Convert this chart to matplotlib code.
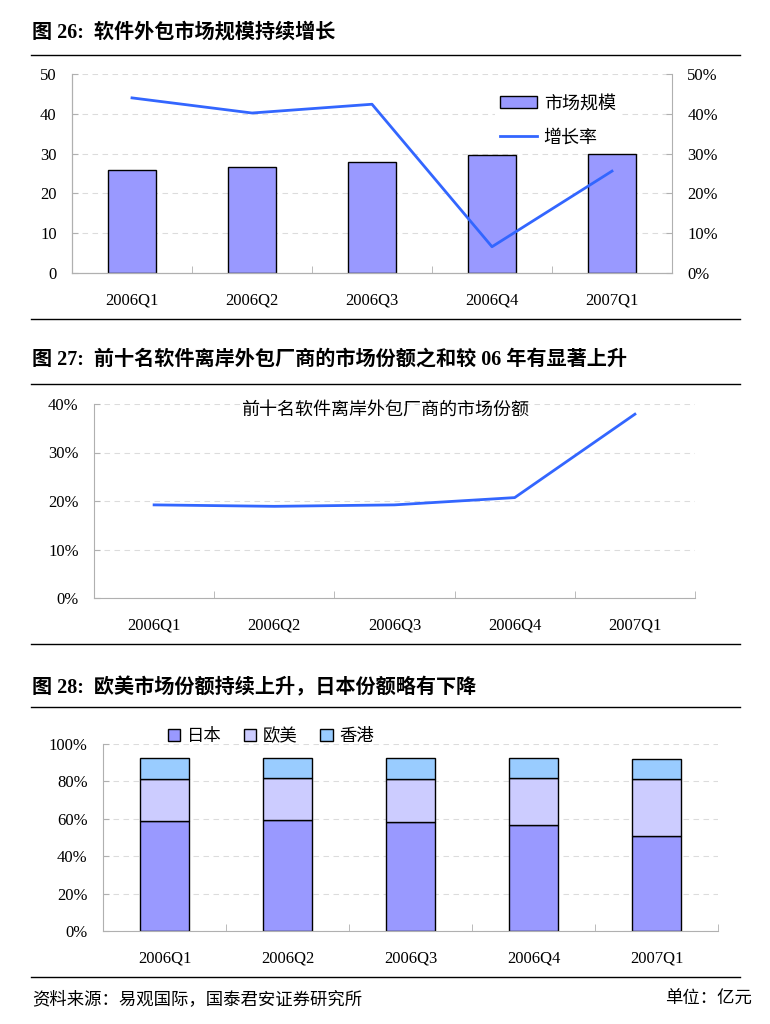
import matplotlib
matplotlib.use('Agg')
import matplotlib.pyplot as plt
import numpy as np
from matplotlib.lines import Line2D
from matplotlib.patches import Patch

plt.rcParams['font.family'] = ['Liberation Serif', 'Noto Sans CJK SC']

quarters = ['2006Q1', '2006Q2', '2006Q3', '2006Q4', '2007Q1']
market_size = [26.0, 26.7, 27.8, 29.6, 30.0]      # 亿元
growth_rate = [44.0, 40.2, 42.4, 6.6, 25.6]       # %
top10_share = [19.2, 18.9, 19.2, 20.7, 37.9]      # %
japan_share = [59.0, 59.5, 58.3, 56.5, 50.6]
euro_share = [22.4, 22.5, 23.1, 25.5, 30.8]
hk_share = [10.9, 10.3, 10.9, 10.3, 10.4]

BAR = '#9999FF'
EURO = '#CCCCFF'
HK = '#99CCFF'
LINE = '#3366FF'
AXIS = '#b0b0b0'
W, H = 770, 1024


def fx(px):
    return px / W


def fy(py):
    return 1 - py / H


def style_axes(ax, show_right=False):
    for s in ax.spines.values():
        s.set_color(AXIS)
    ax.spines['top'].set_visible(False)
    ax.spines['right'].set_visible(show_right)
    ax.grid(axis='y', color='#dcdcdc', linestyle=(0, (5, 4)), lw=0.8)
    ax.set_axisbelow(True)
    ax.set_xlim(-0.5, 4.5)
    ax.set_xticks(range(len(quarters)))
    ax.set_xticklabels(quarters)
    ax.set_xticks(np.arange(-0.5, 5, 1), minor=True)
    ax.tick_params(axis='x', which='major', length=0, pad=14, labelsize=12)
    ax.tick_params(axis='x', which='minor', direction='in', length=5, color=AXIS)
    ax.tick_params(axis='y', direction='in', length=4, color=AXIS, labelsize=12, pad=11)


def add_rule(py):
    fig.add_artist(Line2D([fx(31), fx(740)], [fy(py), fy(py)], color='black', lw=1.0))


def add_title(py, txt):
    fig.text(fx(32), fy(py), txt, fontsize=14.5, fontweight='bold', va='center')


fig = plt.figure(figsize=(7.7, 10.24), dpi=100)
x = np.arange(len(quarters))

# ---- 图 26
add_title(33, '图 26:  软件外包市场规模持续增长')
add_rule(55)
add_rule(319)
ax1 = fig.add_axes([fx(72), fy(273), fx(672) - fx(72), fy(74) - fy(273)])
style_axes(ax1)
ax1.bar(x, market_size, width=0.4, color=BAR, edgecolor='black', lw=1.0)
ax1.set_ylim(0, 50)
ax1.set_yticks(range(0, 51, 10))

ax1r = ax1.twinx()
ax1r.set_ylim(0, 50)
ax1r.set_yticks(range(0, 51, 10))
ax1r.set_yticklabels(['%d%%' % v for v in range(0, 51, 10)])
for s in ax1r.spines.values():
    s.set_color(AXIS)
ax1r.spines['top'].set_visible(False)
ax1r.tick_params(axis='y', direction='in', length=4, color=AXIS, labelsize=12, pad=11)
ax1r.plot(x, growth_rate, color=LINE, lw=2)
handles = [Patch(facecolor=BAR, edgecolor='black', lw=1.0),
           Line2D([], [], color=LINE, lw=2)]
leg = ax1r.legend(handles, ['市场规模', '增长率'], loc='upper left',
                  bbox_to_anchor=(0.705, 0.92), fontsize=13, handlelength=2.0,
                  handleheight=0.7, handletextpad=0.4, labelspacing=0.95,
                  borderpad=0.3, borderaxespad=0, frameon=True, fancybox=False)
leg.get_frame().set_edgecolor('none')
leg.get_frame().set_facecolor('white')
leg.get_frame().set_alpha(1)

# ---- 图 27
add_title(360, '图 27:  前十名软件离岸外包厂商的市场份额之和较 06 年有显著上升')
add_rule(384)
add_rule(644)
ax2 = fig.add_axes([fx(94), fy(598), fx(695) - fx(94), fy(404) - fy(598)])
style_axes(ax2)
ax2.plot(x, top10_share, color=LINE, lw=2)
ax2.set_ylim(0, 40)
ax2.set_yticks(range(0, 41, 10))
ax2.set_yticklabels(['%d%%' % v for v in range(0, 41, 10)])
ax2.text(0.484, 0.969, '前十名软件离岸外包厂商的市场份额', transform=ax2.transAxes,
         fontsize=13, ha='center', va='center')

# ---- 图 28
add_title(688, '图 28:  欧美市场份额持续上升，日本份额略有下降')
add_rule(707)
add_rule(977)
ax3 = fig.add_axes([fx(103), fy(931), fx(718) - fx(103), fy(744) - fy(931)])
style_axes(ax3)
japan = np.array(japan_share)
euro = np.array(euro_share)
ax3.bar(x, japan, width=0.4, color=BAR, edgecolor='black', lw=1.0)
ax3.bar(x, euro, width=0.4, bottom=japan, color=EURO, edgecolor='black', lw=1.0)
ax3.bar(x, hk_share, width=0.4, bottom=japan + euro, color=HK, edgecolor='black', lw=1.0)
ax3.set_ylim(0, 100)
ax3.set_yticks(range(0, 101, 20))
ax3.set_yticklabels(['%d%%' % v for v in range(0, 101, 20)])
handles3 = [Patch(facecolor=c, edgecolor='black', lw=1.0) for c in (BAR, EURO, HK)]
ax3.legend(handles3, ['日本', '欧美', '香港'], loc='center left', ncol=3,
           bbox_to_anchor=(0.105, 1.037), fontsize=12.5, handlelength=0.7,
           handleheight=0.7, handletextpad=0.4, columnspacing=1.3,
           frameon=False, borderpad=0, borderaxespad=0)

# ---- footer
fig.text(fx(32), fy(1000), '资料来源：易观国际，国泰君安证券研究所', fontsize=12.5, va='center')
fig.text(fx(752), fy(1000), '单位：亿元', fontsize=12.5, va='center', ha='right')

fig.savefig('out.png', dpi=100)
